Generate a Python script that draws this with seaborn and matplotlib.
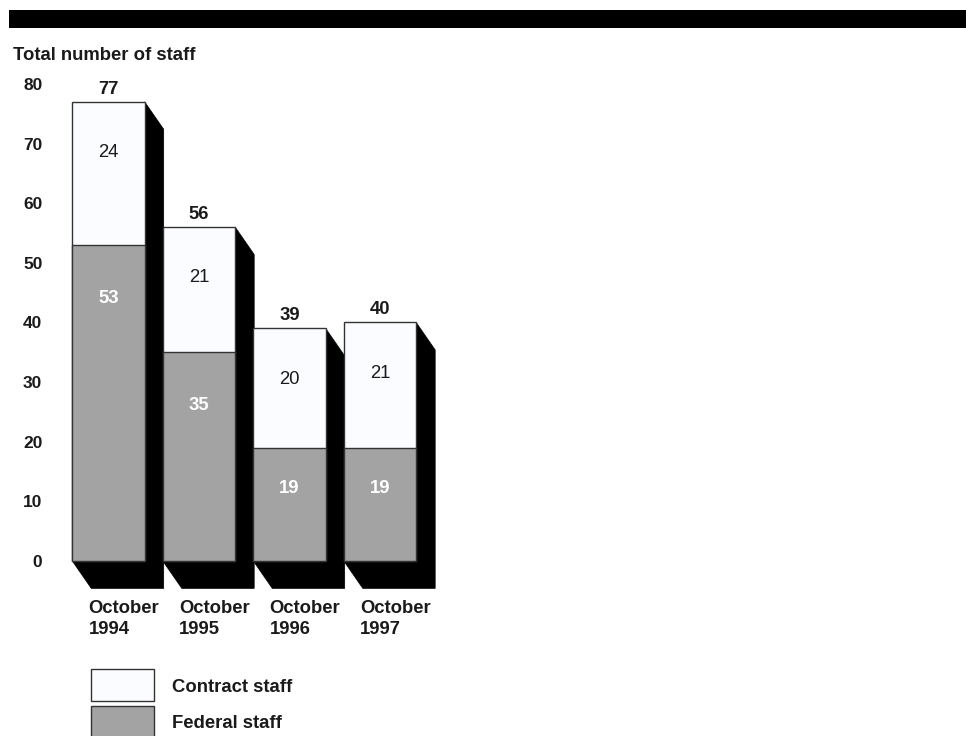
import pandas as pd
import seaborn as sns
import matplotlib.pyplot as plt
from matplotlib.patches import Polygon, Rectangle

periods = ['October\n1994', 'October\n1995', 'October\n1996', 'October\n1997']
federal = [53, 35, 19, 19]
contract = [24, 21, 20, 21]
totals = [f + c for f, c in zip(federal, contract)]

contract_color = '#fbfcff'
federal_color = '#a3a3a3'
edge = '#333333'
ink = '#1a1a1a'

sns.set_style('white')
plt.rcParams['font.family'] = ['Liberation Sans', 'DejaVu Sans']

df = pd.DataFrame({'period': periods, 'total': totals, 'federal': federal,
                   'contract': contract})

W, H = 966, 736
fs = 13.3
fig = plt.figure(figsize=(W / 100, H / 100), dpi=100)
ax = fig.add_axes([0.0561, 0.1973, 0.4122, 0.6886])

# whole bar in contract colour, federal part over it
sns.barplot(data=df, x='period', y='total', color=contract_color, saturation=1,
            edgecolor=edge, linewidth=1, width=0.8, ax=ax, zorder=3)
sns.barplot(data=df, x='period', y='federal', color=federal_color, saturation=1,
            edgecolor=edge, linewidth=1, width=0.8, ax=ax, zorder=4)

# black extrusion behind each bar
dx, dy = 0.21, 4.6
for p in ax.patches[:len(periods)]:
    x0, w, h = p.get_x(), p.get_width(), p.get_height()
    x1 = x0 + w
    shadow = Polygon([(x1, h), (x1 + dx, h - dy), (x1 + dx, -dy),
                      (x0 + dx, -dy), (x0, 0), (x1, 0)],
                     closed=True, facecolor='black', edgecolor='black',
                     linewidth=0.5, zorder=2, clip_on=False)
    ax.add_patch(shadow)

for i in range(len(periods)):
    ax.text(i, totals[i] + 2.1, str(totals[i]), ha='center', va='center',
            fontsize=fs, fontweight='bold', color=ink, zorder=6)
    ax.text(i, totals[i] - 8.5, str(contract[i]), ha='center', va='center',
            fontsize=fs, color=ink, zorder=6)
    fy = federal[i] - min(9, federal[i] * 0.36)
    ax.text(i, fy, str(federal[i]), ha='center', va='center',
            fontsize=fs, fontweight='bold', color='white', zorder=6)
    ax.text(i + 0.17, -6.5, periods[i], ha='center', va='top',
            multialignment='left', fontsize=fs, fontweight='bold',
            color=ink, linespacing=1.3, clip_on=False)

ax.set_xlim(-0.6, 3.8)
ax.set_ylim(-5, 80)
ax.set_xticks([])
ax.set_yticks(range(0, 81, 10))
ax.set_yticklabels([str(v) for v in range(0, 81, 10)], fontsize=12.5,
                   fontweight='bold', color=ink)
ax.tick_params(axis='y', length=0, pad=8.5)
ax.set_xlabel('')
ax.set_ylabel('')
for s in ax.spines.values():
    s.set_visible(False)

# header band and title
fig.add_artist(Rectangle((9 / W, 1 - 28 / H), 1 - 9 / W, 18 / H,
                         transform=fig.transFigure, facecolor='black',
                         edgecolor='none'))
fig.text(13 / W, 1 - 56 / H, 'Total number of staff', ha='left', va='center',
         fontsize=fs, fontweight='bold', color=ink)

# legend
fig.add_artist(Rectangle((91 / W, 1 - 701 / H), 63 / W, 32 / H,
                         transform=fig.transFigure, facecolor=contract_color,
                         edgecolor=edge, linewidth=1))
fig.add_artist(Rectangle((91 / W, 1 - 740 / H), 63 / W, 34 / H,
                         transform=fig.transFigure, facecolor=federal_color,
                         edgecolor=edge, linewidth=1))
fig.text(172 / W, 1 - 688 / H, 'Contract staff', ha='left', va='center',
         fontsize=fs, fontweight='bold', color=ink)
fig.text(172 / W, 1 - 724 / H, 'Federal staff', ha='left', va='center',
         fontsize=fs, fontweight='bold', color=ink)

fig.savefig('out.png', dpi=100)
